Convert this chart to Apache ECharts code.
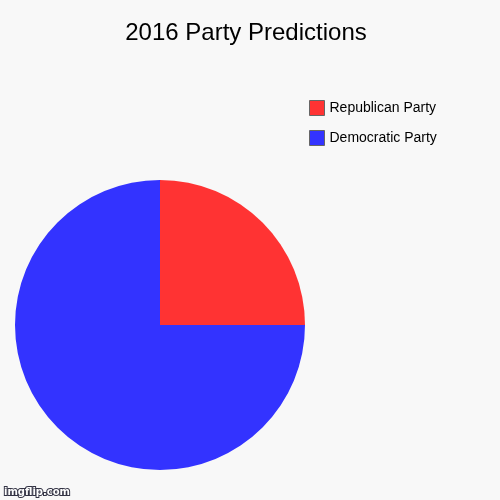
<!DOCTYPE html>
<html>
<head>
    <meta charset="utf-8">
    <title>2016 Party Predictions</title>
    <script src="https://cdn.jsdelivr.net/npm/echarts@6/dist/echarts.min.js"></script>
    <style>
        html, body { margin: 0; padding: 0; height: 100%; overflow: hidden; background: #f8f8f8; }
        #main { width: 500px; height: 500px; }
    </style>
</head>
<body>
    <div id="main"></div>
    <script>
        const parties = ['Republican Party', 'Democratic Party'];
        const shares = [25, 75];
        const colors = ['#ff3333', '#3333ff'];

        const chart = echarts.init(document.getElementById('main'));
        chart.setOption({
            backgroundColor: '#f8f8f8',
            animation: false,
            title: {
                text: '2016 Party Predictions',
                left: 246,
                textAlign: 'center',
                top: 21,
                padding: 0,
                textStyle: { fontFamily: 'Liberation Sans, Arial', fontSize: 24, fontWeight: 'normal', color: '#000' }
            },
            legend: {
                orient: 'vertical',
                left: 309,
                top: 100,
                padding: 0,
                itemWidth: 15,
                itemHeight: 15,
                itemGap: 14,
                icon: 'rect',
                itemStyle: { borderColor: '#666', borderWidth: 1 },
                textStyle: { fontFamily: 'Liberation Sans, Arial', fontSize: 14, color: '#000' },
                data: parties
            },
            graphic: [{
                type: 'text',
                left: 3,
                top: 486,
                style: {
                    text: 'imgflip.com',
                    fontFamily: 'DejaVu Sans, Arial',
                    fontSize: 10,
                    fontWeight: 'bold',
                    fill: '#fff',
                    stroke: '#334',
                    lineWidth: 2
                }
            }],
            series: [{
                type: 'pie',
                center: [160, 325],
                radius: 145,
                startAngle: 90,
                clockwise: true,
                label: { show: false },
                labelLine: { show: false },
                emphasis: { disabled: true },
                itemStyle: { borderWidth: 0 },
                data: parties.map((p, i) => ({
                    name: p,
                    value: shares[i],
                    itemStyle: { color: colors[i] }
                }))
            }]
        });
    </script>
</body>
</html>
